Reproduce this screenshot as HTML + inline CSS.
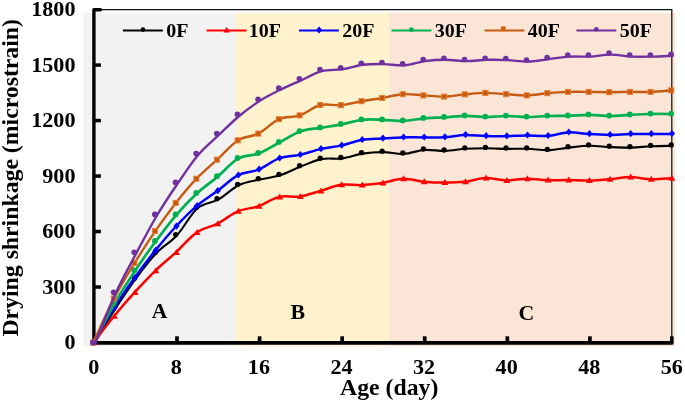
<!DOCTYPE html>
<html><head><meta charset="utf-8"><title>Drying shrinkage</title>
<style>
html,body{margin:0;padding:0;background:#fff;}
body{width:685px;height:402px;overflow:hidden;}
svg{display:block;will-change:transform;transform:translateZ(0);}
text{font-family:"Liberation Serif",serif;font-weight:bold;fill:#000;}
</style></head><body>
<svg width="685" height="402" viewBox="0 0 685 402">
<rect x="0" y="0" width="685" height="402" fill="#ffffff"/>

<rect x="83.3" y="12.8" width="152.7" height="333.1" fill="#F2F2F2"/>
<rect x="236" y="12.8" width="152.7" height="333.1" fill="#FFF2CC"/>
<rect x="388.7" y="12.8" width="286.3" height="333.1" fill="#FBE5D6"/>
<path d="M93.5 9.6 H671.8 V342.5" fill="none" stroke="#111" stroke-width="1.25"/>
<path d="M100.4 9.8 H93.9 V342.9" fill="none" stroke="#000" stroke-width="3.4" stroke-linejoin="round" stroke-linecap="round"/>
<path d="M93.9 342.9 H671.8 V337.6" fill="none" stroke="#000" stroke-width="3.7" stroke-linecap="round" stroke-linejoin="round"/>
<path d="M176.99 336.3 V342.5" stroke="#000" stroke-width="3.7"/>
<path d="M259.57 336.3 V342.5" stroke="#000" stroke-width="3.7"/>
<path d="M342.16 336.3 V342.5" stroke="#000" stroke-width="3.7"/>
<path d="M424.74 336.3 V342.5" stroke="#000" stroke-width="3.7"/>
<path d="M507.33 336.3 V342.5" stroke="#000" stroke-width="3.7"/>
<path d="M589.91 336.3 V342.5" stroke="#000" stroke-width="3.7"/>
<path d="M93.5 287.02 H100.9" stroke="#000" stroke-width="3.5"/>
<path d="M93.5 231.53 H100.9" stroke="#000" stroke-width="3.5"/>
<path d="M93.5 176.05 H100.9" stroke="#000" stroke-width="3.5"/>
<path d="M93.5 120.57 H100.9" stroke="#000" stroke-width="3.5"/>
<path d="M93.5 65.08 H100.9" stroke="#000" stroke-width="3.5"/>
<text transform="translate(93.70 374.40) scale(1.070 1)" font-size="20.70" text-anchor="middle">0</text>
<text transform="translate(176.29 374.40) scale(1.070 1)" font-size="20.70" text-anchor="middle">8</text>
<text transform="translate(258.87 374.40) scale(1.070 1)" font-size="20.70" text-anchor="middle">16</text>
<text transform="translate(341.46 374.40) scale(1.070 1)" font-size="20.70" text-anchor="middle">24</text>
<text transform="translate(424.04 374.40) scale(1.070 1)" font-size="20.70" text-anchor="middle">32</text>
<text transform="translate(506.63 374.40) scale(1.070 1)" font-size="20.70" text-anchor="middle">40</text>
<text transform="translate(589.21 374.40) scale(1.070 1)" font-size="20.70" text-anchor="middle">48</text>
<text transform="translate(671.80 374.40) scale(1.070 1)" font-size="20.70" text-anchor="middle">56</text>
<text transform="translate(75.50 349.30) scale(1.070 1)" font-size="20.70" text-anchor="end">0</text>
<text transform="translate(75.50 293.82) scale(1.070 1)" font-size="20.70" text-anchor="end">300</text>
<text transform="translate(75.50 238.33) scale(1.070 1)" font-size="20.70" text-anchor="end">600</text>
<text transform="translate(75.50 182.85) scale(1.070 1)" font-size="20.70" text-anchor="end">900</text>
<text transform="translate(75.50 127.37) scale(1.070 1)" font-size="20.70" text-anchor="end">1200</text>
<text transform="translate(75.50 71.88) scale(1.070 1)" font-size="20.70" text-anchor="end">1500</text>
<text transform="translate(75.50 16.40) scale(1.070 1)" font-size="20.70" text-anchor="end">1800</text>
<text transform="translate(389.20 394.60) scale(1.020 1)" font-size="23.30" text-anchor="middle">Age (day)</text>
<text transform="translate(18.40 177.80) rotate(-90) scale(1.020 1)" font-size="23.30" text-anchor="middle">Drying shrinkage (microstrain)</text>
<text transform="translate(159.50 318.40) scale(1.060 1)" font-size="20.30" text-anchor="middle">A</text>
<text transform="translate(297.80 319.40) scale(1.040 1)" font-size="21.00" text-anchor="middle">B</text>
<text transform="translate(526.40 320.30) scale(1.040 1)" font-size="21.00" text-anchor="middle">C</text>
<path d="M94.20 343.40 C97.64 337.75 107.96 320.22 114.85 309.50 C121.73 298.78 128.61 288.47 135.49 279.10 C142.38 269.73 149.26 260.57 156.14 253.30 C163.02 246.03 169.90 243.00 176.79 235.50 C183.67 228.00 190.55 214.28 197.43 208.30 C204.31 202.32 211.20 203.43 218.08 199.60 C224.96 195.77 231.84 188.63 238.72 185.30 C245.61 181.97 252.49 181.27 259.37 179.60 C266.25 177.93 273.14 177.47 280.02 175.30 C286.90 173.13 293.78 169.30 300.66 166.60 C307.55 163.90 314.43 160.47 321.31 159.10 C328.19 157.73 335.07 159.32 341.96 158.40 C348.84 157.48 355.72 154.65 362.60 153.60 C369.49 152.55 376.37 152.05 383.25 152.10 C390.13 152.15 397.01 154.27 403.90 153.90 C410.78 153.53 417.66 150.40 424.54 149.90 C431.43 149.40 438.31 151.08 445.19 150.90 C452.07 150.72 458.95 149.23 465.84 148.80 C472.72 148.37 479.60 148.28 486.48 148.30 C493.36 148.32 500.25 148.82 507.13 148.90 C514.01 148.98 520.89 148.57 527.77 148.80 C534.66 149.03 541.54 150.50 548.42 150.30 C555.30 150.10 562.19 148.35 569.07 147.60 C575.95 146.85 582.83 145.88 589.71 145.80 C596.60 145.72 603.48 146.80 610.36 147.10 C617.24 147.40 624.12 147.73 631.01 147.60 C637.89 147.47 644.77 146.60 651.65 146.30 C658.54 146.00 668.86 145.88 672.30 145.80" fill="none" stroke="#000000" stroke-width="2.1" stroke-linejoin="round" stroke-linecap="round"/>
<circle cx="93.10" cy="342.50" r="2.65" fill="#000000"/>
<circle cx="113.75" cy="308.60" r="2.65" fill="#000000"/>
<circle cx="134.39" cy="278.20" r="2.65" fill="#000000"/>
<circle cx="155.04" cy="252.40" r="2.65" fill="#000000"/>
<circle cx="175.69" cy="234.60" r="2.65" fill="#000000"/>
<circle cx="196.33" cy="207.40" r="2.65" fill="#000000"/>
<circle cx="216.98" cy="198.70" r="2.65" fill="#000000"/>
<circle cx="237.62" cy="184.40" r="2.65" fill="#000000"/>
<circle cx="258.27" cy="178.70" r="2.65" fill="#000000"/>
<circle cx="278.92" cy="174.40" r="2.65" fill="#000000"/>
<circle cx="299.56" cy="165.70" r="2.65" fill="#000000"/>
<circle cx="320.21" cy="158.20" r="2.65" fill="#000000"/>
<circle cx="340.86" cy="157.50" r="2.65" fill="#000000"/>
<circle cx="361.50" cy="152.70" r="2.65" fill="#000000"/>
<circle cx="382.15" cy="151.20" r="2.65" fill="#000000"/>
<circle cx="402.80" cy="153.00" r="2.65" fill="#000000"/>
<circle cx="423.44" cy="149.00" r="2.65" fill="#000000"/>
<circle cx="444.09" cy="150.00" r="2.65" fill="#000000"/>
<circle cx="464.74" cy="147.90" r="2.65" fill="#000000"/>
<circle cx="485.38" cy="147.40" r="2.65" fill="#000000"/>
<circle cx="506.03" cy="148.00" r="2.65" fill="#000000"/>
<circle cx="526.67" cy="147.90" r="2.65" fill="#000000"/>
<circle cx="547.32" cy="149.40" r="2.65" fill="#000000"/>
<circle cx="567.97" cy="146.70" r="2.65" fill="#000000"/>
<circle cx="588.61" cy="144.90" r="2.65" fill="#000000"/>
<circle cx="609.26" cy="146.20" r="2.65" fill="#000000"/>
<circle cx="629.91" cy="146.70" r="2.65" fill="#000000"/>
<circle cx="650.55" cy="145.40" r="2.65" fill="#000000"/>
<circle cx="671.20" cy="144.90" r="2.65" fill="#000000"/>
<path d="M93.30 342.70 C96.74 338.28 107.06 324.58 113.95 316.20 C120.83 307.82 127.71 299.97 134.59 292.40 C141.48 284.83 148.36 277.47 155.24 270.80 C162.12 264.13 169.00 258.77 175.89 252.40 C182.77 246.03 189.65 237.37 196.53 232.60 C203.41 227.83 210.30 227.35 217.18 223.80 C224.06 220.25 230.94 214.23 237.82 211.30 C244.71 208.37 251.59 208.60 258.47 206.20 C265.35 203.80 272.24 198.53 279.12 196.90 C286.00 195.27 292.88 197.40 299.76 196.40 C306.65 195.40 313.53 192.83 320.41 190.90 C327.29 188.97 334.18 185.77 341.06 184.80 C347.94 183.83 354.82 185.40 361.70 185.10 C368.59 184.80 375.47 184.05 382.35 183.00 C389.23 181.95 396.11 179.02 403.00 178.80 C409.88 178.58 416.76 181.07 423.64 181.70 C430.53 182.33 437.41 182.58 444.29 182.60 C451.17 182.62 458.05 182.55 464.94 181.80 C471.82 181.05 478.70 178.33 485.58 178.10 C492.46 177.87 499.35 180.28 506.23 180.40 C513.11 180.52 519.99 178.85 526.88 178.80 C533.76 178.75 540.64 179.88 547.52 180.10 C554.40 180.32 561.29 180.02 568.17 180.10 C575.05 180.18 581.93 180.73 588.81 180.60 C595.70 180.47 602.58 179.88 609.46 179.30 C616.34 178.72 623.22 177.10 630.11 177.10 C636.99 177.10 643.87 179.10 650.75 179.30 C657.64 179.50 667.96 178.47 671.40 178.30" fill="none" stroke="#FF0000" stroke-width="2.5" stroke-linejoin="round" stroke-linecap="round"/>
<path d="M93.90 339.20 L97.30 345.20 L90.50 345.20 Z" fill="#FF0000"/>
<path d="M114.55 312.70 L117.95 318.70 L111.15 318.70 Z" fill="#FF0000"/>
<path d="M135.19 288.90 L138.59 294.90 L131.79 294.90 Z" fill="#FF0000"/>
<path d="M155.84 267.30 L159.24 273.30 L152.44 273.30 Z" fill="#FF0000"/>
<path d="M176.49 248.90 L179.89 254.90 L173.09 254.90 Z" fill="#FF0000"/>
<path d="M197.13 229.10 L200.53 235.10 L193.73 235.10 Z" fill="#FF0000"/>
<path d="M217.78 220.30 L221.18 226.30 L214.38 226.30 Z" fill="#FF0000"/>
<path d="M238.42 207.80 L241.82 213.80 L235.02 213.80 Z" fill="#FF0000"/>
<path d="M259.07 202.70 L262.47 208.70 L255.67 208.70 Z" fill="#FF0000"/>
<path d="M279.72 193.40 L283.12 199.40 L276.32 199.40 Z" fill="#FF0000"/>
<path d="M300.36 192.90 L303.76 198.90 L296.96 198.90 Z" fill="#FF0000"/>
<path d="M321.01 187.40 L324.41 193.40 L317.61 193.40 Z" fill="#FF0000"/>
<path d="M341.66 181.30 L345.06 187.30 L338.26 187.30 Z" fill="#FF0000"/>
<path d="M362.30 181.60 L365.70 187.60 L358.90 187.60 Z" fill="#FF0000"/>
<path d="M382.95 179.50 L386.35 185.50 L379.55 185.50 Z" fill="#FF0000"/>
<path d="M403.60 175.30 L407.00 181.30 L400.20 181.30 Z" fill="#FF0000"/>
<path d="M424.24 178.20 L427.64 184.20 L420.84 184.20 Z" fill="#FF0000"/>
<path d="M444.89 179.10 L448.29 185.10 L441.49 185.10 Z" fill="#FF0000"/>
<path d="M465.54 178.30 L468.94 184.30 L462.14 184.30 Z" fill="#FF0000"/>
<path d="M486.18 174.60 L489.58 180.60 L482.78 180.60 Z" fill="#FF0000"/>
<path d="M506.83 176.90 L510.23 182.90 L503.43 182.90 Z" fill="#FF0000"/>
<path d="M527.48 175.30 L530.88 181.30 L524.08 181.30 Z" fill="#FF0000"/>
<path d="M548.12 176.60 L551.52 182.60 L544.72 182.60 Z" fill="#FF0000"/>
<path d="M568.77 176.60 L572.17 182.60 L565.37 182.60 Z" fill="#FF0000"/>
<path d="M589.41 177.10 L592.81 183.10 L586.01 183.10 Z" fill="#FF0000"/>
<path d="M610.06 175.80 L613.46 181.80 L606.66 181.80 Z" fill="#FF0000"/>
<path d="M630.71 173.60 L634.11 179.60 L627.31 179.60 Z" fill="#FF0000"/>
<path d="M651.35 175.80 L654.75 181.80 L647.95 181.80 Z" fill="#FF0000"/>
<path d="M672.00 174.80 L675.40 180.80 L668.60 180.80 Z" fill="#FF0000"/>
<path d="M93.30 342.90 C96.74 337.08 107.06 318.87 113.95 308.00 C120.83 297.13 127.71 287.27 134.59 277.70 C141.48 268.13 148.36 259.13 155.24 250.60 C162.12 242.07 169.00 233.92 175.89 226.50 C182.77 219.08 189.65 212.00 196.53 206.10 C203.41 200.20 210.30 196.22 217.18 191.10 C224.06 185.98 230.94 178.98 237.82 175.40 C244.71 171.82 251.59 172.43 258.47 169.60 C265.35 166.77 272.24 160.85 279.12 158.40 C286.00 155.95 292.88 156.45 299.76 154.90 C306.65 153.35 313.53 150.65 320.41 149.10 C327.29 147.55 334.18 147.13 341.06 145.60 C347.94 144.07 354.82 141.08 361.70 139.90 C368.59 138.72 375.47 138.92 382.35 138.50 C389.23 138.08 396.11 137.58 403.00 137.40 C409.88 137.22 416.76 137.43 423.64 137.40 C430.53 137.37 437.41 137.60 444.29 137.20 C451.17 136.80 458.05 135.18 464.94 135.00 C471.82 134.82 478.70 135.90 485.58 136.10 C492.46 136.30 499.35 136.32 506.23 136.20 C513.11 136.08 519.99 135.45 526.88 135.40 C533.76 135.35 540.64 136.40 547.52 135.90 C554.40 135.40 561.29 132.70 568.17 132.40 C575.05 132.10 581.93 133.68 588.81 134.10 C595.70 134.52 602.58 134.90 609.46 134.90 C616.34 134.90 623.22 134.23 630.11 134.10 C636.99 133.97 643.87 134.13 650.75 134.10 C657.64 134.07 667.96 133.93 671.40 133.90" fill="none" stroke="#0000FF" stroke-width="2.5" stroke-linejoin="round" stroke-linecap="round"/>
<path d="M93.90 338.90 L97.00 342.50 L93.90 346.10 L90.80 342.50 Z" fill="#0000FF"/>
<path d="M114.55 304.00 L117.65 307.60 L114.55 311.20 L111.45 307.60 Z" fill="#0000FF"/>
<path d="M135.19 273.70 L138.29 277.30 L135.19 280.90 L132.09 277.30 Z" fill="#0000FF"/>
<path d="M155.84 246.60 L158.94 250.20 L155.84 253.80 L152.74 250.20 Z" fill="#0000FF"/>
<path d="M176.49 222.50 L179.59 226.10 L176.49 229.70 L173.39 226.10 Z" fill="#0000FF"/>
<path d="M197.13 202.10 L200.23 205.70 L197.13 209.30 L194.03 205.70 Z" fill="#0000FF"/>
<path d="M217.78 187.10 L220.88 190.70 L217.78 194.30 L214.68 190.70 Z" fill="#0000FF"/>
<path d="M238.42 171.40 L241.52 175.00 L238.42 178.60 L235.32 175.00 Z" fill="#0000FF"/>
<path d="M259.07 165.60 L262.17 169.20 L259.07 172.80 L255.97 169.20 Z" fill="#0000FF"/>
<path d="M279.72 154.40 L282.82 158.00 L279.72 161.60 L276.62 158.00 Z" fill="#0000FF"/>
<path d="M300.36 150.90 L303.46 154.50 L300.36 158.10 L297.26 154.50 Z" fill="#0000FF"/>
<path d="M321.01 145.10 L324.11 148.70 L321.01 152.30 L317.91 148.70 Z" fill="#0000FF"/>
<path d="M341.66 141.60 L344.76 145.20 L341.66 148.80 L338.56 145.20 Z" fill="#0000FF"/>
<path d="M362.30 135.90 L365.40 139.50 L362.30 143.10 L359.20 139.50 Z" fill="#0000FF"/>
<path d="M382.95 134.50 L386.05 138.10 L382.95 141.70 L379.85 138.10 Z" fill="#0000FF"/>
<path d="M403.60 133.40 L406.70 137.00 L403.60 140.60 L400.50 137.00 Z" fill="#0000FF"/>
<path d="M424.24 133.40 L427.34 137.00 L424.24 140.60 L421.14 137.00 Z" fill="#0000FF"/>
<path d="M444.89 133.20 L447.99 136.80 L444.89 140.40 L441.79 136.80 Z" fill="#0000FF"/>
<path d="M465.54 131.00 L468.64 134.60 L465.54 138.20 L462.44 134.60 Z" fill="#0000FF"/>
<path d="M486.18 132.10 L489.28 135.70 L486.18 139.30 L483.08 135.70 Z" fill="#0000FF"/>
<path d="M506.83 132.20 L509.93 135.80 L506.83 139.40 L503.73 135.80 Z" fill="#0000FF"/>
<path d="M527.48 131.40 L530.58 135.00 L527.48 138.60 L524.38 135.00 Z" fill="#0000FF"/>
<path d="M548.12 131.90 L551.22 135.50 L548.12 139.10 L545.02 135.50 Z" fill="#0000FF"/>
<path d="M568.77 128.40 L571.87 132.00 L568.77 135.60 L565.67 132.00 Z" fill="#0000FF"/>
<path d="M589.41 130.10 L592.51 133.70 L589.41 137.30 L586.31 133.70 Z" fill="#0000FF"/>
<path d="M610.06 130.90 L613.16 134.50 L610.06 138.10 L606.96 134.50 Z" fill="#0000FF"/>
<path d="M630.71 130.10 L633.81 133.70 L630.71 137.30 L627.61 133.70 Z" fill="#0000FF"/>
<path d="M651.35 130.10 L654.45 133.70 L651.35 137.30 L648.25 133.70 Z" fill="#0000FF"/>
<path d="M672.00 129.90 L675.10 133.50 L672.00 137.10 L668.90 133.50 Z" fill="#0000FF"/>
<path d="M93.80 342.90 C97.24 336.35 107.56 315.63 114.45 303.60 C121.33 291.57 128.21 281.08 135.09 270.70 C141.98 260.32 148.86 250.62 155.74 241.30 C162.62 231.98 169.50 222.80 176.39 214.80 C183.27 206.80 190.15 199.67 197.03 193.30 C203.91 186.93 210.80 182.42 217.68 176.60 C224.56 170.78 231.44 162.27 238.32 158.40 C245.21 154.53 252.09 156.08 258.97 153.40 C265.85 150.72 272.74 145.95 279.62 142.30 C286.50 138.65 293.38 133.92 300.26 131.50 C307.15 129.08 314.03 128.98 320.91 127.80 C327.79 126.62 334.68 125.73 341.56 124.40 C348.44 123.07 355.32 120.57 362.20 119.80 C369.09 119.03 375.97 119.63 382.85 119.80 C389.73 119.97 396.61 121.05 403.50 120.80 C410.38 120.55 417.26 118.88 424.14 118.30 C431.03 117.72 437.91 117.72 444.79 117.30 C451.67 116.88 458.55 115.85 465.44 115.80 C472.32 115.75 479.20 116.97 486.08 117.00 C492.96 117.03 499.85 116.00 506.73 116.00 C513.61 116.00 520.49 117.00 527.38 117.00 C534.26 117.00 541.14 116.20 548.02 116.00 C554.90 115.80 561.79 116.00 568.67 115.80 C575.55 115.60 582.43 114.77 589.31 114.80 C596.20 114.83 603.08 116.00 609.96 116.00 C616.84 116.00 623.72 115.13 630.61 114.80 C637.49 114.47 644.37 114.13 651.25 114.00 C658.14 113.87 668.46 114.00 671.90 114.00" fill="none" stroke="#00B050" stroke-width="2.7" stroke-linejoin="round" stroke-linecap="round"/>
<circle cx="93.00" cy="342.50" r="2.90" fill="#00B050"/>
<circle cx="113.65" cy="303.20" r="2.90" fill="#00B050"/>
<circle cx="134.29" cy="270.30" r="2.90" fill="#00B050"/>
<circle cx="154.94" cy="240.90" r="2.90" fill="#00B050"/>
<circle cx="175.59" cy="214.40" r="2.90" fill="#00B050"/>
<circle cx="196.23" cy="192.90" r="2.90" fill="#00B050"/>
<circle cx="216.88" cy="176.20" r="2.90" fill="#00B050"/>
<circle cx="237.52" cy="158.00" r="2.90" fill="#00B050"/>
<circle cx="258.17" cy="153.00" r="2.90" fill="#00B050"/>
<circle cx="278.82" cy="141.90" r="2.90" fill="#00B050"/>
<circle cx="299.46" cy="131.10" r="2.90" fill="#00B050"/>
<circle cx="320.11" cy="127.40" r="2.90" fill="#00B050"/>
<circle cx="340.76" cy="124.00" r="2.90" fill="#00B050"/>
<circle cx="361.40" cy="119.40" r="2.90" fill="#00B050"/>
<circle cx="382.05" cy="119.40" r="2.90" fill="#00B050"/>
<circle cx="402.70" cy="120.40" r="2.90" fill="#00B050"/>
<circle cx="423.34" cy="117.90" r="2.90" fill="#00B050"/>
<circle cx="443.99" cy="116.90" r="2.90" fill="#00B050"/>
<circle cx="464.64" cy="115.40" r="2.90" fill="#00B050"/>
<circle cx="485.28" cy="116.60" r="2.90" fill="#00B050"/>
<circle cx="505.93" cy="115.60" r="2.90" fill="#00B050"/>
<circle cx="526.58" cy="116.60" r="2.90" fill="#00B050"/>
<circle cx="547.22" cy="115.60" r="2.90" fill="#00B050"/>
<circle cx="567.87" cy="115.40" r="2.90" fill="#00B050"/>
<circle cx="588.51" cy="114.40" r="2.90" fill="#00B050"/>
<circle cx="609.16" cy="115.60" r="2.90" fill="#00B050"/>
<circle cx="629.81" cy="114.40" r="2.90" fill="#00B050"/>
<circle cx="650.45" cy="113.60" r="2.90" fill="#00B050"/>
<circle cx="671.10" cy="113.60" r="2.90" fill="#00B050"/>
<path d="M93.30 342.50 C96.74 335.17 107.06 311.75 113.95 298.50 C120.83 285.25 127.71 274.23 134.59 263.00 C141.48 251.77 148.36 241.12 155.24 231.10 C162.12 221.08 169.00 211.63 175.89 202.90 C182.77 194.17 189.65 185.90 196.53 178.70 C203.41 171.50 210.30 166.08 217.18 159.70 C224.06 153.32 230.94 144.75 237.82 140.40 C244.71 136.05 251.59 137.13 258.47 133.60 C265.35 130.07 272.24 122.23 279.12 119.20 C286.00 116.17 292.88 117.77 299.76 115.40 C306.65 113.03 313.53 106.70 320.41 105.00 C327.29 103.30 334.18 105.83 341.06 105.20 C347.94 104.57 354.82 102.40 361.70 101.20 C368.59 100.00 375.47 99.17 382.35 98.00 C389.23 96.83 396.11 94.63 403.00 94.20 C409.88 93.77 416.76 95.00 423.64 95.40 C430.53 95.80 437.41 96.77 444.29 96.60 C451.17 96.43 458.05 95.02 464.94 94.40 C471.82 93.78 478.70 92.93 485.58 92.90 C492.46 92.87 499.35 93.78 506.23 94.20 C513.11 94.62 519.99 95.57 526.88 95.40 C533.76 95.23 540.64 93.78 547.52 93.20 C554.40 92.62 561.29 92.12 568.17 91.90 C575.05 91.68 581.93 91.85 588.81 91.90 C595.70 91.95 602.58 92.20 609.46 92.20 C616.34 92.20 623.22 91.95 630.11 91.90 C636.99 91.85 643.87 92.15 650.75 91.90 C657.64 91.65 667.96 90.65 671.40 90.40" fill="none" stroke="#C55A11" stroke-width="2.4" stroke-linejoin="round" stroke-linecap="round"/>
<rect x="90.55" y="339.95" width="5.10" height="5.10" fill="#C55A11" stroke="#ED7D31" stroke-width="0.9"/>
<rect x="111.20" y="295.95" width="5.10" height="5.10" fill="#C55A11" stroke="#ED7D31" stroke-width="0.9"/>
<rect x="131.84" y="260.45" width="5.10" height="5.10" fill="#C55A11" stroke="#ED7D31" stroke-width="0.9"/>
<rect x="152.49" y="228.55" width="5.10" height="5.10" fill="#C55A11" stroke="#ED7D31" stroke-width="0.9"/>
<rect x="173.14" y="200.35" width="5.10" height="5.10" fill="#C55A11" stroke="#ED7D31" stroke-width="0.9"/>
<rect x="193.78" y="176.15" width="5.10" height="5.10" fill="#C55A11" stroke="#ED7D31" stroke-width="0.9"/>
<rect x="214.43" y="157.15" width="5.10" height="5.10" fill="#C55A11" stroke="#ED7D31" stroke-width="0.9"/>
<rect x="235.07" y="137.85" width="5.10" height="5.10" fill="#C55A11" stroke="#ED7D31" stroke-width="0.9"/>
<rect x="255.72" y="131.05" width="5.10" height="5.10" fill="#C55A11" stroke="#ED7D31" stroke-width="0.9"/>
<rect x="276.37" y="116.65" width="5.10" height="5.10" fill="#C55A11" stroke="#ED7D31" stroke-width="0.9"/>
<rect x="297.01" y="112.85" width="5.10" height="5.10" fill="#C55A11" stroke="#ED7D31" stroke-width="0.9"/>
<rect x="317.66" y="102.45" width="5.10" height="5.10" fill="#C55A11" stroke="#ED7D31" stroke-width="0.9"/>
<rect x="338.31" y="102.65" width="5.10" height="5.10" fill="#C55A11" stroke="#ED7D31" stroke-width="0.9"/>
<rect x="358.95" y="98.65" width="5.10" height="5.10" fill="#C55A11" stroke="#ED7D31" stroke-width="0.9"/>
<rect x="379.60" y="95.45" width="5.10" height="5.10" fill="#C55A11" stroke="#ED7D31" stroke-width="0.9"/>
<rect x="400.25" y="91.65" width="5.10" height="5.10" fill="#C55A11" stroke="#ED7D31" stroke-width="0.9"/>
<rect x="420.89" y="92.85" width="5.10" height="5.10" fill="#C55A11" stroke="#ED7D31" stroke-width="0.9"/>
<rect x="441.54" y="94.05" width="5.10" height="5.10" fill="#C55A11" stroke="#ED7D31" stroke-width="0.9"/>
<rect x="462.19" y="91.85" width="5.10" height="5.10" fill="#C55A11" stroke="#ED7D31" stroke-width="0.9"/>
<rect x="482.83" y="90.35" width="5.10" height="5.10" fill="#C55A11" stroke="#ED7D31" stroke-width="0.9"/>
<rect x="503.48" y="91.65" width="5.10" height="5.10" fill="#C55A11" stroke="#ED7D31" stroke-width="0.9"/>
<rect x="524.12" y="92.85" width="5.10" height="5.10" fill="#C55A11" stroke="#ED7D31" stroke-width="0.9"/>
<rect x="544.77" y="90.65" width="5.10" height="5.10" fill="#C55A11" stroke="#ED7D31" stroke-width="0.9"/>
<rect x="565.42" y="89.35" width="5.10" height="5.10" fill="#C55A11" stroke="#ED7D31" stroke-width="0.9"/>
<rect x="586.06" y="89.35" width="5.10" height="5.10" fill="#C55A11" stroke="#ED7D31" stroke-width="0.9"/>
<rect x="606.71" y="89.65" width="5.10" height="5.10" fill="#C55A11" stroke="#ED7D31" stroke-width="0.9"/>
<rect x="627.36" y="89.35" width="5.10" height="5.10" fill="#C55A11" stroke="#ED7D31" stroke-width="0.9"/>
<rect x="648.00" y="89.35" width="5.10" height="5.10" fill="#C55A11" stroke="#ED7D31" stroke-width="0.9"/>
<rect x="668.65" y="87.85" width="5.10" height="5.10" fill="#C55A11" stroke="#ED7D31" stroke-width="0.9"/>
<path d="M94.70 344.10 C98.14 335.73 108.46 308.95 115.35 293.90 C122.23 278.85 129.11 266.78 135.99 253.80 C142.88 240.82 149.76 227.63 156.64 216.00 C163.52 204.37 170.40 194.13 177.29 184.00 C184.17 173.87 191.05 163.33 197.93 155.20 C204.81 147.07 211.70 141.73 218.58 135.20 C225.46 128.67 232.34 121.73 239.22 116.00 C246.11 110.27 252.99 105.20 259.87 100.80 C266.75 96.40 273.64 93.02 280.52 89.60 C287.40 86.18 294.28 83.38 301.16 80.30 C308.05 77.22 314.93 72.93 321.81 71.10 C328.69 69.27 335.57 70.35 342.46 69.30 C349.34 68.25 356.22 65.67 363.10 64.80 C369.99 63.93 376.87 64.02 383.75 64.10 C390.63 64.18 397.51 65.80 404.40 65.30 C411.28 64.80 418.16 62.02 425.04 61.10 C431.93 60.18 438.81 59.80 445.69 59.80 C452.57 59.80 459.45 61.10 466.34 61.10 C473.22 61.10 480.10 59.97 486.98 59.80 C493.86 59.63 500.75 59.80 507.63 60.10 C514.51 60.40 521.39 61.77 528.27 61.60 C535.16 61.43 542.04 59.93 548.92 59.10 C555.80 58.27 562.69 57.02 569.57 56.60 C576.45 56.18 583.33 56.93 590.21 56.60 C597.10 56.27 603.98 54.60 610.86 54.60 C617.74 54.60 624.62 56.27 631.51 56.60 C638.39 56.93 645.27 56.73 652.15 56.60 C659.04 56.47 669.36 55.93 672.80 55.80" fill="none" stroke="#7030A0" stroke-width="2.4" stroke-linejoin="round" stroke-linecap="round"/>
<circle cx="92.90" cy="342.50" r="2.80" fill="#7030A0"/>
<circle cx="113.55" cy="292.30" r="2.80" fill="#7030A0"/>
<circle cx="134.19" cy="252.20" r="2.80" fill="#7030A0"/>
<circle cx="154.84" cy="214.40" r="2.80" fill="#7030A0"/>
<circle cx="175.49" cy="182.40" r="2.80" fill="#7030A0"/>
<circle cx="196.13" cy="153.60" r="2.80" fill="#7030A0"/>
<circle cx="216.78" cy="133.60" r="2.80" fill="#7030A0"/>
<circle cx="237.42" cy="114.40" r="2.80" fill="#7030A0"/>
<circle cx="258.07" cy="99.20" r="2.80" fill="#7030A0"/>
<circle cx="278.72" cy="88.00" r="2.80" fill="#7030A0"/>
<circle cx="299.36" cy="78.70" r="2.80" fill="#7030A0"/>
<circle cx="320.01" cy="69.50" r="2.80" fill="#7030A0"/>
<circle cx="340.66" cy="67.70" r="2.80" fill="#7030A0"/>
<circle cx="361.30" cy="63.20" r="2.80" fill="#7030A0"/>
<circle cx="381.95" cy="62.50" r="2.80" fill="#7030A0"/>
<circle cx="402.60" cy="63.70" r="2.80" fill="#7030A0"/>
<circle cx="423.24" cy="59.50" r="2.80" fill="#7030A0"/>
<circle cx="443.89" cy="58.20" r="2.80" fill="#7030A0"/>
<circle cx="464.54" cy="59.50" r="2.80" fill="#7030A0"/>
<circle cx="485.18" cy="58.20" r="2.80" fill="#7030A0"/>
<circle cx="505.83" cy="58.50" r="2.80" fill="#7030A0"/>
<circle cx="526.48" cy="60.00" r="2.80" fill="#7030A0"/>
<circle cx="547.12" cy="57.50" r="2.80" fill="#7030A0"/>
<circle cx="567.77" cy="55.00" r="2.80" fill="#7030A0"/>
<circle cx="588.41" cy="55.00" r="2.80" fill="#7030A0"/>
<circle cx="609.06" cy="53.00" r="2.80" fill="#7030A0"/>
<circle cx="629.71" cy="55.00" r="2.80" fill="#7030A0"/>
<circle cx="650.35" cy="55.00" r="2.80" fill="#7030A0"/>
<circle cx="671.00" cy="54.20" r="2.80" fill="#7030A0"/>
<path d="M122.90 30.5 H162.80" stroke="#000000" stroke-width="2.2"/>
<g transform="translate(143.00 29.60) scale(0.80) translate(-143.00 -29.60)"><circle cx="143.00" cy="29.60" r="2.90" fill="#000000"/></g>
<text transform="translate(166.20 36.90) scale(1.070 1)" font-size="18.70" text-anchor="start">0F</text>
<path d="M206.60 30.5 H246.50" stroke="#FF0000" stroke-width="2.2"/>
<g transform="translate(226.70 30.00) scale(0.95) translate(-226.70 -30.00)"><path d="M226.70 26.70 L230.10 32.70 L223.30 32.70 Z" fill="#FF0000"/></g>
<text transform="translate(248.70 36.90) scale(1.070 1)" font-size="18.70" text-anchor="start">10F</text>
<path d="M299.00 30.5 H338.90" stroke="#0000FF" stroke-width="2.2"/>
<g transform="translate(319.10 30.00) scale(1.00) translate(-319.10 -30.00)"><path d="M319.10 26.40 L322.20 30.00 L319.10 33.60 L316.00 30.00 Z" fill="#0000FF"/></g>
<text transform="translate(342.30 36.90) scale(1.070 1)" font-size="18.70" text-anchor="start">20F</text>
<path d="M391.50 30.5 H431.40" stroke="#00B050" stroke-width="2.2"/>
<g transform="translate(411.40 29.60) scale(0.80) translate(-411.40 -29.60)"><circle cx="411.40" cy="29.60" r="2.90" fill="#00B050"/></g>
<text transform="translate(434.80 36.90) scale(1.070 1)" font-size="18.70" text-anchor="start">30F</text>
<path d="M484.50 30.5 H524.40" stroke="#C55A11" stroke-width="2.2"/>
<g transform="translate(503.20 28.90) scale(0.85) translate(-503.20 -28.90)"><rect x="500.65" y="26.35" width="5.10" height="5.10" fill="#C55A11" stroke="#ED7D31" stroke-width="0.9"/></g>
<text transform="translate(527.80 36.90) scale(1.070 1)" font-size="18.70" text-anchor="start">40F</text>
<path d="M576.40 30.5 H616.30" stroke="#7030A0" stroke-width="2.2"/>
<g transform="translate(596.30 29.20) scale(0.80) translate(-596.30 -29.20)"><circle cx="596.30" cy="29.20" r="2.90" fill="#7030A0"/></g>
<text transform="translate(619.70 36.90) scale(1.070 1)" font-size="18.70" text-anchor="start">50F</text>
</svg></body></html>
